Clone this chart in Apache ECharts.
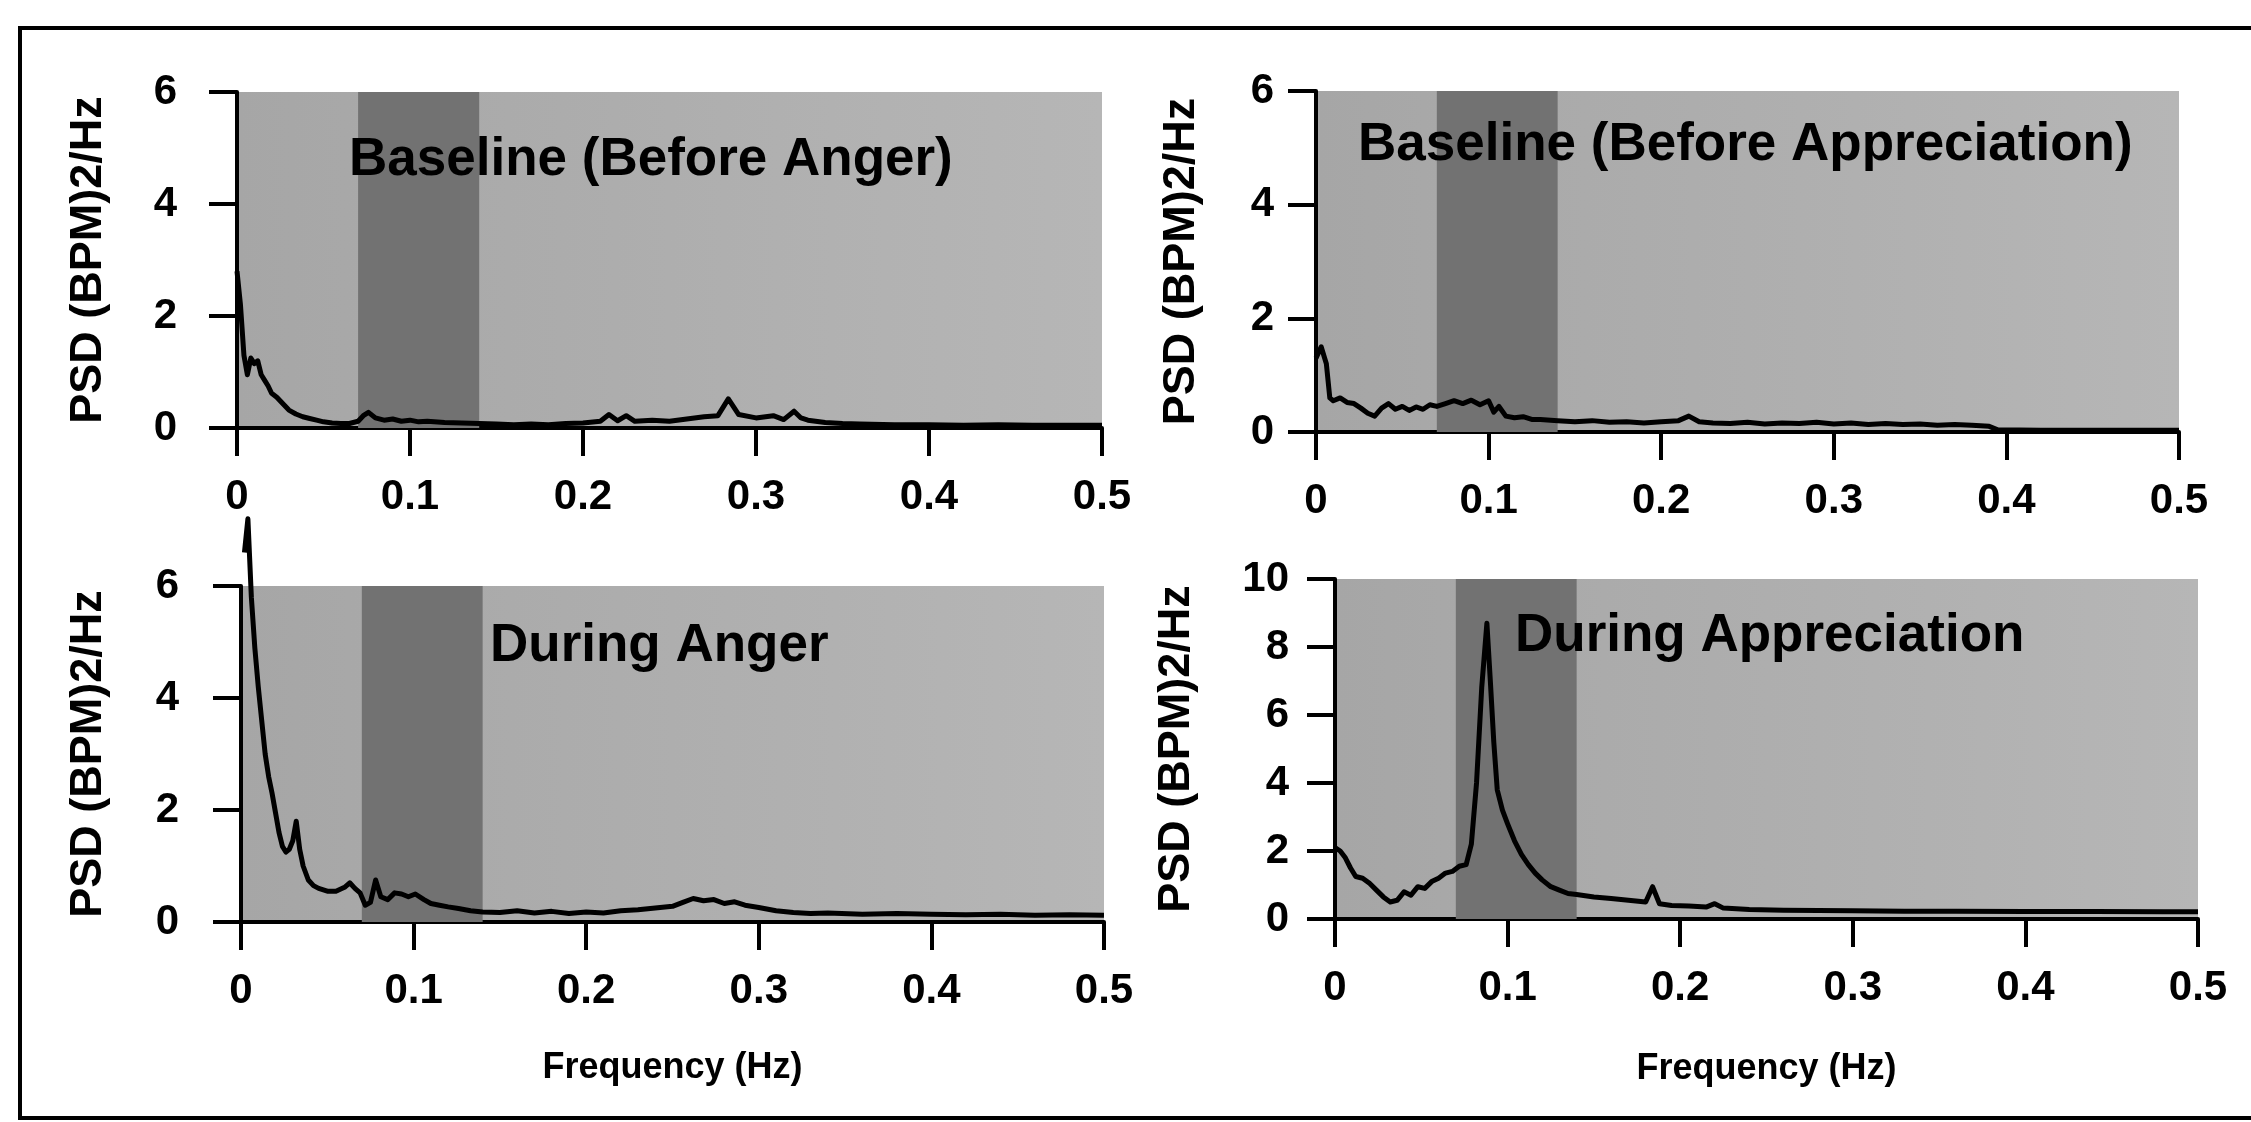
<!DOCTYPE html>
<html><head><meta charset="utf-8">
<script src="https://cdn.jsdelivr.net/npm/echarts@6/dist/echarts.min.js"></script>
<style>html,body{margin:0;padding:0;background:#fff}#c{width:2251px;height:1122px}</style>
</head><body><div id="c"></div>
<script>
// ---- data ----
const panelTitles = ['Baseline (Before Anger)', 'Baseline (Before Appreciation)', 'During Anger', 'During Appreciation'];
const yAxisTitle = 'PSD (BPM)2/Hz';
const xAxisTitle = 'Frequency (Hz)';
const yMaxes = [6, 6, 6, 10];
const lfBand = [0.07, 0.14];

const freqBaselineAnger = [0, 0.002, 0.004, 0.006, 0.008, 0.010, 0.012, 0.014, 0.016, 0.018, 0.020, 0.023, 0.026, 0.030, 0.034, 0.038, 0.042, 0.046, 0.050, 0.055, 0.060, 0.065, 0.070, 0.073, 0.076, 0.080, 0.085, 0.090, 0.095, 0.100, 0.105, 0.110, 0.120, 0.130, 0.140, 0.150, 0.160, 0.170, 0.180, 0.190, 0.200, 0.210, 0.215, 0.220, 0.225, 0.230, 0.240, 0.250, 0.260, 0.270, 0.278, 0.284, 0.290, 0.300, 0.310, 0.316, 0.322, 0.326, 0.330, 0.340, 0.350, 0.360, 0.380, 0.400, 0.420, 0.440, 0.460, 0.480, 0.500];
const psdBaselineAnger = [2.8, 2.2, 1.3, 0.95, 1.25, 1.15, 1.2, 0.95, 0.85, 0.75, 0.62, 0.55, 0.45, 0.32, 0.25, 0.2, 0.17, 0.14, 0.11, 0.09, 0.08, 0.08, 0.12, 0.22, 0.28, 0.18, 0.14, 0.16, 0.12, 0.14, 0.11, 0.12, 0.1, 0.09, 0.08, 0.07, 0.06, 0.07, 0.06, 0.08, 0.09, 0.12, 0.24, 0.13, 0.22, 0.12, 0.14, 0.12, 0.16, 0.2, 0.22, 0.52, 0.24, 0.18, 0.22, 0.15, 0.3, 0.18, 0.14, 0.1, 0.08, 0.07, 0.06, 0.06, 0.05, 0.06, 0.05, 0.05, 0.05];

const freqBaselineAppreciation = [0, 0.003, 0.006, 0.008, 0.010, 0.014, 0.018, 0.022, 0.026, 0.030, 0.034, 0.038, 0.042, 0.046, 0.050, 0.054, 0.058, 0.062, 0.066, 0.070, 0.075, 0.080, 0.085, 0.090, 0.095, 0.100, 0.103, 0.106, 0.110, 0.115, 0.120, 0.125, 0.130, 0.140, 0.150, 0.160, 0.170, 0.180, 0.190, 0.200, 0.210, 0.216, 0.222, 0.230, 0.240, 0.250, 0.260, 0.270, 0.280, 0.290, 0.300, 0.310, 0.320, 0.330, 0.340, 0.350, 0.360, 0.370, 0.380, 0.390, 0.395, 0.420, 0.450, 0.480, 0.500];
const psdBaselineAppreciation = [1.3, 1.5, 1.2, 0.6, 0.55, 0.6, 0.52, 0.5, 0.42, 0.33, 0.28, 0.42, 0.5, 0.4, 0.45, 0.38, 0.44, 0.4, 0.48, 0.45, 0.5, 0.55, 0.5, 0.56, 0.48, 0.55, 0.35, 0.45, 0.28, 0.25, 0.27, 0.22, 0.22, 0.2, 0.18, 0.2, 0.17, 0.18, 0.16, 0.18, 0.2, 0.28, 0.18, 0.16, 0.15, 0.17, 0.14, 0.16, 0.15, 0.17, 0.14, 0.16, 0.13, 0.15, 0.13, 0.14, 0.12, 0.13, 0.12, 0.1, 0.04, 0.03, 0.03, 0.03, 0.03];

const freqDuringAnger = [0.002, 0.004, 0.006, 0.008, 0.010, 0.012, 0.014, 0.016, 0.018, 0.020, 0.022, 0.024, 0.026, 0.028, 0.030, 0.032, 0.034, 0.036, 0.039, 0.042, 0.045, 0.050, 0.055, 0.060, 0.063, 0.066, 0.069, 0.072, 0.075, 0.078, 0.081, 0.085, 0.089, 0.093, 0.097, 0.101, 0.106, 0.110, 0.115, 0.120, 0.126, 0.133, 0.140, 0.150, 0.160, 0.170, 0.180, 0.190, 0.200, 0.210, 0.220, 0.230, 0.240, 0.250, 0.256, 0.262, 0.268, 0.274, 0.280, 0.286, 0.292, 0.300, 0.310, 0.320, 0.330, 0.340, 0.360, 0.380, 0.400, 0.420, 0.440, 0.460, 0.480, 0.500];
const psdDuringAnger = [6.6, 7.2, 5.8, 4.9, 4.2, 3.6, 3.0, 2.6, 2.3, 1.95, 1.6, 1.35, 1.25, 1.3, 1.45, 1.8, 1.3, 1.0, 0.75, 0.65, 0.6, 0.55, 0.55, 0.62, 0.7, 0.6, 0.52, 0.3, 0.35, 0.75, 0.45, 0.4, 0.52, 0.5, 0.45, 0.5, 0.4, 0.33, 0.3, 0.27, 0.24, 0.2, 0.18, 0.17, 0.2, 0.16, 0.19, 0.15, 0.18, 0.16, 0.2, 0.22, 0.25, 0.28, 0.35, 0.42, 0.38, 0.4, 0.33, 0.36, 0.3, 0.26, 0.2, 0.17, 0.15, 0.16, 0.14, 0.15, 0.14, 0.13, 0.14, 0.12, 0.13, 0.12];

const freqDuringAppreciation = [0, 0.003, 0.006, 0.009, 0.012, 0.016, 0.020, 0.024, 0.028, 0.032, 0.036, 0.040, 0.044, 0.048, 0.052, 0.056, 0.060, 0.064, 0.068, 0.072, 0.076, 0.079, 0.082, 0.085, 0.088, 0.090, 0.092, 0.094, 0.097, 0.100, 0.104, 0.108, 0.112, 0.116, 0.120, 0.125, 0.130, 0.135, 0.140, 0.150, 0.160, 0.170, 0.180, 0.184, 0.188, 0.195, 0.205, 0.215, 0.220, 0.225, 0.240, 0.260, 0.280, 0.300, 0.330, 0.360, 0.400, 0.440, 0.480, 0.500];
const psdDuringAppreciation = [2.1, 2.0, 1.8, 1.5, 1.25, 1.2, 1.05, 0.85, 0.65, 0.5, 0.55, 0.8, 0.7, 0.95, 0.9, 1.1, 1.2, 1.35, 1.4, 1.55, 1.6, 2.2, 4.0, 6.8, 8.7, 7.0, 5.2, 3.8, 3.2, 2.8, 2.3, 1.9, 1.6, 1.35, 1.15, 0.95, 0.85, 0.75, 0.72, 0.65, 0.6, 0.55, 0.5, 0.95, 0.45, 0.4, 0.38, 0.35, 0.45, 0.32, 0.28, 0.26, 0.25, 0.24, 0.23, 0.23, 0.22, 0.22, 0.21, 0.21];

// ---- layout / style ----
const FONT = '"Liberation Sans", Arial, Helvetica, sans-serif';
const grids = [
  {left: 237, top: 92, width: 865, height: 336},
  {left: 1316, top: 91, width: 863, height: 341},
  {left: 241, top: 586, width: 863, height: 336},
  {left: 1335, top: 579, width: 863, height: 340}
];
const yNameGaps = [126, 112, 130, 136];
const yLabelMargins = [60, 42, 62, 46];
const titlePos = [[349, 160], [1358, 145], [490, 646], [1515, 636]];
const seriesFreq = [freqBaselineAnger, freqBaselineAppreciation, freqDuringAnger, freqDuringAppreciation];
const seriesPsd = [psdBaselineAnger, psdBaselineAppreciation, psdDuringAnger, psdDuringAppreciation];

const bgFill = {type: 'linear', x: 0, y: 0, x2: 1, y2: 0, colorStops: [{offset: 0, color: '#a6a6a6'}, {offset: 1, color: '#b6b6b6'}]};

const option = {
  backgroundColor: '#ffffff',
  animation: false,
  grid: grids.map(g => Object.assign({show: true, backgroundColor: bgFill, borderWidth: 0, containLabel: false}, g)),
  xAxis: grids.map((g, i) => ({
    type: 'value', gridIndex: i, min: 0, max: 0.5, interval: 0.1,
    name: i >= 2 ? xAxisTitle : '', nameLocation: 'middle', nameGap: i === 2 ? 128 : 132,
    nameTextStyle: {fontSize: 36, fontWeight: 'bold', color: '#000', fontFamily: FONT},
    axisLine: {show: true, onZero: false, lineStyle: {color: '#000', width: 4}},
    axisTick: {show: true, length: 28, lineStyle: {color: '#000', width: 4}},
    axisLabel: {margin: 48, fontSize: 42, fontWeight: 'bold', color: '#000', fontFamily: FONT},
    splitLine: {show: false}
  })),
  yAxis: grids.map((g, i) => ({
    type: 'value', gridIndex: i, min: 0, max: yMaxes[i], interval: 2,
    name: yAxisTitle, nameLocation: 'middle', nameGap: yNameGaps[i],
    nameTextStyle: {fontSize: 45, fontWeight: 'bold', color: '#000', fontFamily: FONT},
    axisLine: {show: true, onZero: false, lineStyle: {color: '#000', width: 4}},
    axisTick: {show: true, length: 28, lineStyle: {color: '#000', width: 4}},
    axisLabel: {margin: yLabelMargins[i], fontSize: 42, fontWeight: 'bold', color: '#000', fontFamily: FONT},
    splitLine: {show: false}
  })),
  series: grids.map((g, i) => ({
    type: 'line', xAxisIndex: i, yAxisIndex: i,
    data: seriesFreq[i].map((f, k) => [f, seriesPsd[i][k]]),
    showSymbol: false, symbol: 'none', clip: false, z: 3,
    lineStyle: {color: '#000', width: 5, join: 'round'},
    markArea: {
      silent: true, z: 1,
      itemStyle: {color: '#727272'},
      data: [[{xAxis: lfBand[0]}, {xAxis: lfBand[1]}]]
    }
  })),
  graphic: [
    {type: 'rect', shape: {x: 20, y: 28, width: 2300, height: 1090}, style: {fill: null, stroke: '#000', lineWidth: 4}, z: 50, silent: true}
  ].concat(panelTitles.map((t, i) => ({
    type: 'text', x: titlePos[i][0], y: titlePos[i][1], z: 60, silent: true,
    style: {text: t, fill: '#000', fontSize: 53, fontWeight: 'bold', fontFamily: FONT, verticalAlign: 'middle', align: 'left'}
  })))
};

const chart = echarts.init(document.getElementById('c'), null, {renderer: 'canvas'});
chart.setOption(option);
</script>
</body></html>
